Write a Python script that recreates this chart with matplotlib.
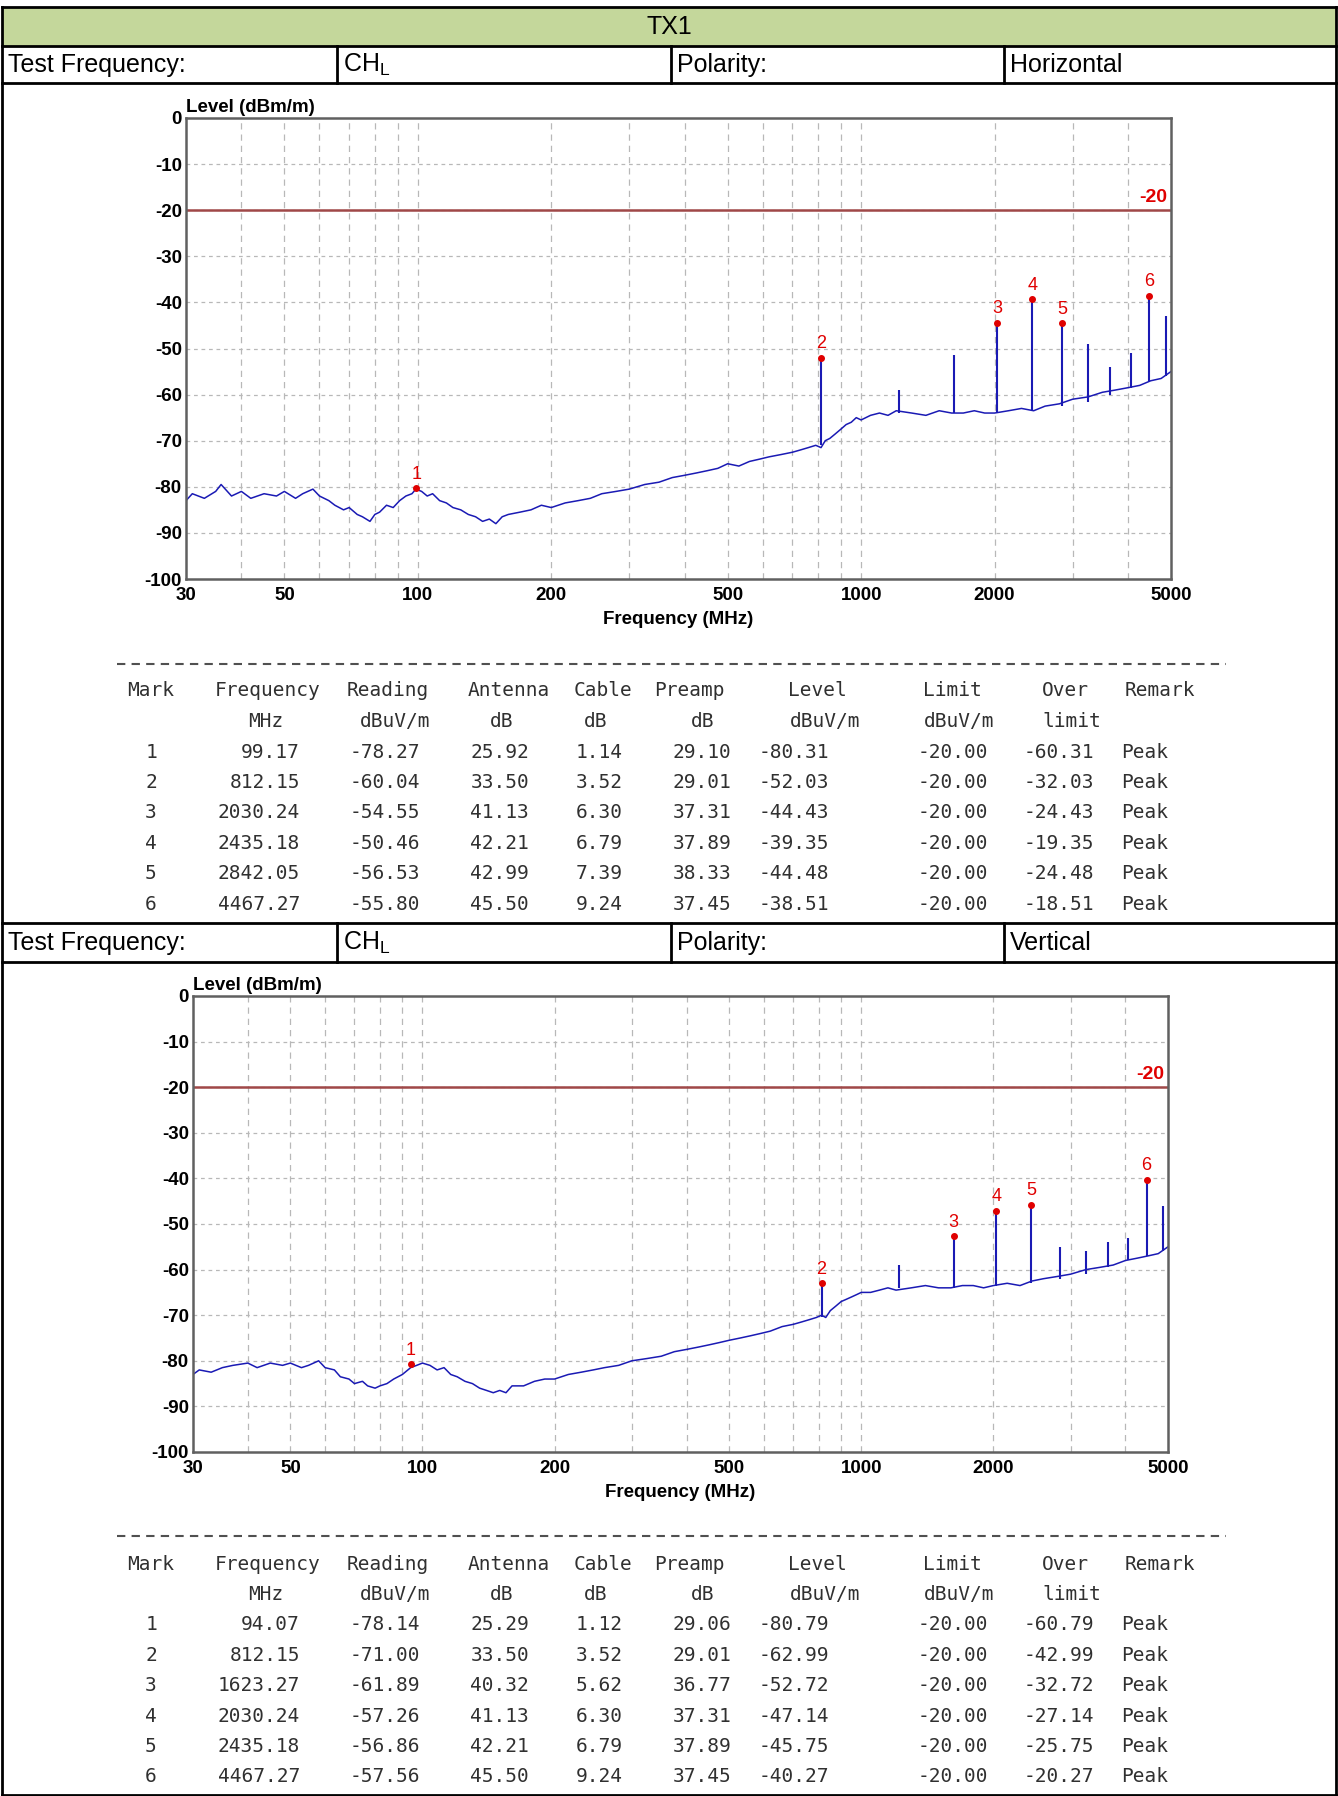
import numpy as np
import matplotlib
matplotlib.use("Agg")
import matplotlib.pyplot as plt
from matplotlib.lines import Line2D
from matplotlib.patches import Rectangle

W, H = 1338, 1796

# ---- data ----
title = "TX1"
polarities = ["Horizontal", "Vertical"]

h_base_f = [30, 31, 33, 35, 36, 38, 40, 42, 45, 48, 50, 53, 55, 58, 60, 63, 65, 68, 70, 73, 75, 78, 80, 82, 85, 88, 91, 94, 97, 99, 102, 105, 108, 112, 116, 120, 125, 130, 135, 140, 145, 150, 155, 160, 170, 180, 190, 200, 215, 230, 245, 260, 280, 300, 325, 350, 375, 400, 425, 450, 475, 500, 530, 560, 590, 620, 660, 700, 730, 760, 790, 812, 830, 850, 875, 900, 925, 950, 975, 1000, 1050, 1100, 1150, 1200, 1300, 1400, 1500, 1600, 1700, 1800, 1900, 2000, 2150, 2300, 2450, 2600, 2800, 3000, 3250, 3500, 3750, 4000, 4250, 4500, 4750, 5000]
h_base_l = [-83, -81.5, -82.5, -81, -79.5, -82, -81, -82.5, -81.5, -82, -81, -82.5, -81.5, -80.5, -82, -83, -84, -85, -84.5, -86, -86.5, -87.5, -86, -85.5, -84, -84.5, -83, -82, -81.5, -80.5, -81, -82, -81.5, -83, -83.5, -84.5, -85, -86, -86.5, -87.5, -87, -88, -86.5, -86, -85.5, -85, -84, -84.5, -83.5, -83, -82.5, -81.5, -81, -80.5, -79.5, -79, -78, -77.5, -77, -76.5, -76, -75, -75.5, -74.5, -74, -73.5, -73, -72.5, -72, -71.5, -71, -71.5, -70, -69.5, -68.5, -67.5, -66.5, -66, -65, -65.5, -64.5, -64, -64.5, -63.5, -64, -64.5, -63.5, -64, -64, -63.5, -64, -64, -63.5, -63, -63.5, -62.5, -62, -61, -60.5, -59.5, -59, -58.5, -58, -57, -56.5, -55]
h_spike_f = [812, 1217, 1623, 2030, 2435, 2842, 3247, 3650, 4058, 4467, 4870]
h_spike_l = [-52.0, -59, -51.5, -44.4, -39.4, -44.5, -49, -54, -51, -38.5, -43]
h_spike_b = [-71, -64, -64, -64, -63.5, -62.5, -61.5, -60, -58.5, -57, -56]

v_base_f = [30, 31, 33, 35, 37, 40, 42, 45, 48, 50, 53, 55, 58, 60, 63, 65, 68, 70, 73, 75, 78, 80, 83, 86, 90, 94, 97, 100, 104, 108, 112, 116, 120, 125, 130, 135, 140, 145, 150, 155, 160, 170, 180, 190, 200, 215, 230, 245, 260, 280, 300, 325, 350, 375, 400, 425, 450, 475, 500, 530, 560, 590, 620, 660, 700, 730, 760, 790, 812, 830, 850, 875, 900, 925, 950, 975, 1000, 1050, 1100, 1150, 1200, 1300, 1400, 1500, 1600, 1700, 1800, 1900, 2000, 2150, 2300, 2450, 2600, 2800, 3000, 3250, 3500, 3750, 4000, 4250, 4500, 4750, 5000]
v_base_l = [-83, -82, -82.5, -81.5, -81, -80.5, -81.5, -80.5, -81, -80.5, -81.5, -81, -80, -81.5, -82, -83.5, -84, -85, -84.5, -85.5, -86, -85.5, -85, -84, -83, -81.5, -81, -80.5, -81, -82, -81.5, -83, -83.5, -84.5, -85, -86, -86.5, -87, -86.5, -87, -85.5, -85.5, -84.5, -84, -84, -83, -82.5, -82, -81.5, -81, -80, -79.5, -79, -78, -77.5, -77, -76.5, -76, -75.5, -75, -74.5, -74, -73.5, -72.5, -72, -71.5, -71, -70.5, -70, -70.5, -69, -68, -67, -66.5, -66, -65.5, -65, -65, -64.5, -64, -64.5, -64, -63.5, -64, -64, -63.5, -63.5, -64, -63.5, -63, -63.5, -62.5, -62, -61.5, -61, -60, -59.5, -59, -58, -57.5, -57, -56.5, -55]
v_spike_f = [812, 1217, 1623, 2030, 2435, 2842, 3247, 3650, 4058, 4467, 4870]
v_spike_l = [-63.0, -59, -52.7, -47.1, -45.8, -55, -56, -54, -53, -40.3, -46]
v_spike_b = [-70.5, -64, -64, -63.5, -63, -62, -61, -59.5, -58, -57, -56]

h_marks = [(99.17, -80.31), (812.15, -52.03), (2030.24, -44.43), (2435.18, -39.35), (2842.05, -44.48), (4467.27, -38.51)]
v_marks = [(94.07, -80.79), (812.15, -62.99), (1623.27, -52.72), (2030.24, -47.14), (2435.18, -45.75), (4467.27, -40.27)]

hdr1 = ["Mark", "Frequency", "Reading", "Antenna", "Cable", "Preamp", "Level", "Limit", "Over", "Remark"]
hdr2 = ["", "MHz", "dBuV/m", "dB", "dB", "dB", "dBuV/m", "dBuV/m", "limit", ""]
h_rows = [
    ["1", "99.17", "-78.27", "25.92", "1.14", "29.10", "-80.31", "-20.00", "-60.31", "Peak"],
    ["2", "812.15", "-60.04", "33.50", "3.52", "29.01", "-52.03", "-20.00", "-32.03", "Peak"],
    ["3", "2030.24", "-54.55", "41.13", "6.30", "37.31", "-44.43", "-20.00", "-24.43", "Peak"],
    ["4", "2435.18", "-50.46", "42.21", "6.79", "37.89", "-39.35", "-20.00", "-19.35", "Peak"],
    ["5", "2842.05", "-56.53", "42.99", "7.39", "38.33", "-44.48", "-20.00", "-24.48", "Peak"],
    ["6", "4467.27", "-55.80", "45.50", "9.24", "37.45", "-38.51", "-20.00", "-18.51", "Peak"],
]
v_rows = [
    ["1", "94.07", "-78.14", "25.29", "1.12", "29.06", "-80.79", "-20.00", "-60.79", "Peak"],
    ["2", "812.15", "-71.00", "33.50", "3.52", "29.01", "-62.99", "-20.00", "-42.99", "Peak"],
    ["3", "1623.27", "-61.89", "40.32", "5.62", "36.77", "-52.72", "-20.00", "-32.72", "Peak"],
    ["4", "2030.24", "-57.26", "41.13", "6.30", "37.31", "-47.14", "-20.00", "-27.14", "Peak"],
    ["5", "2435.18", "-56.86", "42.21", "6.79", "37.89", "-45.75", "-20.00", "-25.75", "Peak"],
    ["6", "4467.27", "-57.56", "45.50", "9.24", "37.45", "-40.27", "-20.00", "-20.27", "Peak"],
]

fig = plt.figure(figsize=(W / 100, H / 100), dpi=100)


def fx(x):
    return x / W


def fy(y):
    return 1 - y / H


def hline(y, x0, x1, **kw):
    fig.add_artist(Line2D([fx(x0), fx(x1)], [fy(y), fy(y)], transform=fig.transFigure, **kw))


def vline(x, y0, y1, **kw):
    fig.add_artist(Line2D([fx(x), fx(x)], [fy(y0), fy(y1)], transform=fig.transFigure, **kw))


def ftext(x, y, s, **kw):
    fig.text(fx(x), fy(y), s, **kw)


# ---- outer table ----
L, R = 2, 1336
fig.add_artist(Rectangle((fx(L), fy(46)), fx(R) - fx(L), fy(7) - fy(46), transform=fig.transFigure,
                         facecolor="#c4d79b", edgecolor="none"))
bw = dict(color="black", lw=2)
for y in [7, 46, 83, 923, 962, 1795]:
    hline(y, L, R, **bw)
vline(L, 7, 1795, **bw)
vline(R, 7, 1795, **bw)
for y0, y1 in [(46, 83), (923, 962)]:
    for x in [337, 671, 1004]:
        vline(x, y0, y1, **bw)
tkw = dict(family=["Liberation Sans", "DejaVu Sans"], fontsize=18, va="center")
ftext(669, 27, title, ha="center", **tkw)
for yc, pol in [(65, polarities[0]), (943, polarities[1])]:
    ftext(8, yc, "Test Frequency:", **tkw)
    ftext(343, yc, r"CH$_\mathregular{L}$", **tkw)
    ftext(677, yc, "Polarity:", **tkw)
    ftext(1010, yc, pol, **tkw)

# ---- charts ----
nar = ["Liberation Sans Narrow", "Liberation Sans", "DejaVu Sans"]


def chart(l, r, t, b, bf, bl, sf, sl, sb, marks):
    ax = fig.add_axes([fx(l), fy(b), fx(r) - fx(l), fy(t) - fy(b)])
    ax.set_xscale("log")
    ax.set_xlim(30, 5000)
    ax.set_ylim(-100, 0)
    major = [30, 50, 100, 200, 500, 1000, 2000, 5000]
    minor = [40, 60, 70, 80, 90, 300, 400, 600, 700, 800, 900, 3000, 4000]
    ax.set_xticks(major)
    ax.set_xticklabels([str(m) for m in major])
    ax.set_xticks(minor, minor=True)
    ax.set_xticklabels([], minor=True)
    ax.set_yticks(range(-100, 1, 10))
    ax.set_yticklabels([str(v) for v in range(-100, 1, 10)])
    ax.tick_params(which="both", length=0, labelsize=13.5)
    for lab in ax.get_xticklabels() + ax.get_yticklabels():
        lab.set_family(nar)
        lab.set_fontweight("bold")
    ax.tick_params(axis="x", pad=6)
    ax.tick_params(axis="y", pad=3)
    for v in range(-90, 0, 10):
        ax.axhline(v, color="#b8b8b8", lw=0.9, ls=(0, (3, 3)))
    for v in major[1:-1] + minor:
        ax.axvline(v, color="#b8b8b8", lw=0.9, ls=(0, (5, 4)))
    for sp in ax.spines.values():
        sp.set_color("#606060")
        sp.set_linewidth(1.8)
    ax.axhline(-20, color="#a04848", lw=1.8)
    ax.text(4900, -19, "-20", color="#e00000", fontsize=14, fontweight="bold", family=nar,
            ha="right", va="bottom")
    ax.plot(bf, bl, color="#1a1ab4", lw=1.1)
    ax.vlines(sf, sb, sl, color="#1a1ab4", lw=1.5)
    for i, (f, lv) in enumerate(marks):
        ax.plot(f, lv, "o", color="#e00000", ms=4)
        ax.text(f, lv + 1.2, str(i + 1), color="#e00000", fontsize=13, family=nar, ha="center", va="bottom")
    ax.text(0.0, 1.005, "Level (dBm/m)", transform=ax.transAxes, fontsize=13.5, fontweight="bold",
            family=nar, ha="left", va="bottom")
    ax.set_xlabel("Frequency (MHz)", fontsize=13.5, fontweight="bold", family=nar, labelpad=5)
    return ax


chart(186, 1171, 118, 579, h_base_f, h_base_l, h_spike_f, h_spike_l, h_spike_b, h_marks)
chart(193, 1168, 996, 1452, v_base_f, v_base_l, v_spike_f, v_spike_l, v_spike_b, v_marks)

# ---- mark tables ----
mono = ["DejaVu Sans Mono"]
col_x = [151, 300, 420, 529, 623, 731, 759, 988, 1094, 1121]
col_ha = ["center", "right", "right", "right", "right", "right", "left", "right", "right", "left"]
hdr_x = [151, 268, 388, 509, 603, 689, 817, 952, 1065, 1160]
hdr2_x = [151, 266, 395, 502, 596, 703, 825, 959, 1072, 1160]
mkw = dict(family=mono, fontsize=14, color="#303030", va="center")


def mark_table(ydash, y0, rows):
    hline(ydash, 117, 1226, color="#505050", lw=1.5, ls=(0, (4, 3)))
    for x, s in zip(hdr_x, hdr1):
        ftext(x, y0, s, ha="center", **mkw)
    for x, s in zip(hdr2_x, hdr2):
        ftext(x, y0 + 30.5, s, ha="center", **mkw)
    for i, row in enumerate(rows):
        y = y0 + 61 + 30.4 * i
        for x, ha, s in zip(col_x, col_ha, row):
            ftext(x, y, s, ha=ha, **mkw)


mark_table(664, 691, h_rows)
mark_table(1536, 1564, v_rows)

fig.savefig("out.png", dpi=100)
